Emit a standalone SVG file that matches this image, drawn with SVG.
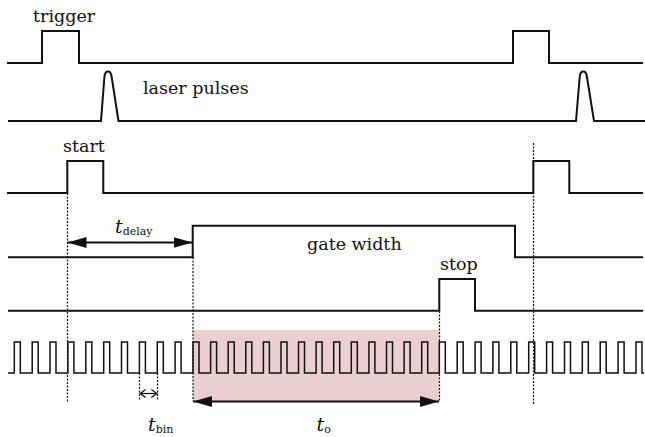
<svg xmlns="http://www.w3.org/2000/svg" width="645" height="437" viewBox="0 0 645 437">
<style>
.sig{fill:none;stroke:#111;stroke-width:2;stroke-linejoin:miter}
.clk{fill:none;stroke:#111;stroke-width:1.5}
.dot{fill:none;stroke:#111;stroke-width:1.2;stroke-dasharray:2 1.5}
.arr{fill:none;stroke:#111;stroke-width:2}
.thin{fill:none;stroke:#111;stroke-width:1.2}
.lbl{font-family:"DejaVu Serif","Liberation Serif",serif;font-size:17.5px;fill:#111}
.it{font-family:"DejaVu Serif","Liberation Serif",serif;font-style:italic;font-size:19px;fill:#111}
.sub{font-family:"DejaVu Serif","Liberation Serif",serif;font-size:11px;fill:#111}
</style>
<defs>
<marker id="head" markerUnits="userSpaceOnUse" markerWidth="20" markerHeight="12" refX="19" refY="6" orient="auto-start-reverse">
<path d="M0,0.5 L19,6 L0,11.5 z" fill="#111"/>
</marker>
<marker id="chev" markerUnits="userSpaceOnUse" markerWidth="8" markerHeight="10" refX="6" refY="4.5" orient="auto-start-reverse">
<path d="M0.5,0.5 L6,4.5 L0.5,8.5" fill="none" stroke="#111" stroke-width="1.3"/>
</marker>
</defs>
<rect id="window" x="193" y="330" width="246.3" height="71.5" fill="#ebcfd0"/>
<g id="trigger">
<path class="sig" d="M7,63 H42 V31 H79 V63 H513 V31 H549 V63 H643"/>
<text class="lbl" x="33" y="22">trigger</text>
</g>
<g id="laser">
<path class="sig" d="M8,121 H101 L104.5,76 C105.5,70 110.5,70 111.5,76 L118.5,121 H576 L579.8,76 C580.8,70 585.8,70 586.8,76 L594,121 H645"/>
<text class="lbl" x="143" y="94">laser pulses</text>
</g>
<g id="start">
<path class="sig" d="M7,193 H67.3 V161 H103.3 V193 H533.3 V161 H569.3 V193 H643"/>
<text class="lbl" x="63" y="152">start</text>
</g>
<g id="gate">
<path class="sig" d="M8,257.3 H192.7 V225.7 H515 V257.3 H643"/>
<text class="lbl" x="307" y="250">gate width</text>
</g>
<g id="stop">
<path class="sig" d="M8,310.7 H439.3 V279 H475 V310.7 H643"/>
<text class="lbl" x="440" y="269.5">stop</text>
</g>
<g id="clock">
<path class="clk" d="M8,373 H14.3 V342 H20.3 V373 H32.2 V342 H38.2 V373 H50 V342 H56 V373 H67.9 V342 H73.9 V373 H85.8 V342 H91.8 V373 H103.7 V342 H109.7 V373 H121.5 V342 H127.5 V373 H139.4 V342 H145.4 V373 H157.3 V342 H163.3 V373 H175.1 V342 H181.1 V373 H193 V342 H199 V373 H210.6 V342 H216.6 V373 H228.2 V342 H234.2 V373 H245.8 V342 H251.8 V373 H263.4 V342 H269.4 V373 H281 V342 H287 V373 H298.5 V342 H304.5 V373 H316.1 V342 H322.1 V373 H333.7 V342 H339.7 V373 H351.3 V342 H357.3 V373 H368.9 V342 H374.9 V373 H386.5 V342 H392.5 V373 H404.1 V342 H410.1 V373 H421.7 V342 H427.7 V373 H439.3 V342 H445.3 V373 H457.2 V342 H463.2 V373 H475.1 V342 H481.1 V373 H492.9 V342 H498.9 V373 H510.8 V342 H516.8 V373 H528.7 V342 H534.7 V373 H546.6 V342 H552.6 V373 H564.5 V342 H570.5 V373 H582.3 V342 H588.3 V373 H600.2 V342 H606.2 V373 H618.1 V342 H624.1 V373 H636 V342 H642 V373 H644"/>
</g>
<g id="connectors">
<line class="dot" x1="67.5" y1="193" x2="67.5" y2="403"/>
<line class="dot" x1="193" y1="257" x2="193" y2="401"/>
<line class="dot" x1="439.5" y1="311" x2="439.5" y2="401"/>
<line class="dot" x1="533.5" y1="143" x2="533.5" y2="405"/>
<line class="dot" x1="139.5" y1="373" x2="139.5" y2="401"/>
<line class="dot" x1="157.5" y1="373" x2="157.5" y2="401"/>
<line class="arr" x1="67.5" y1="242.5" x2="192.5" y2="242.5" marker-start="url(#head)" marker-end="url(#head)"/>
<line class="arr" x1="193" y1="401.5" x2="439" y2="401.5" marker-start="url(#head)" marker-end="url(#head)"/>
<line class="thin" x1="140.2" y1="393.5" x2="156.8" y2="393.5" marker-start="url(#chev)" marker-end="url(#chev)"/>
</g>
<g id="labels">
<text x="115" y="232.5"><tspan class="it">t</tspan><tspan class="sub" dy="2.5">delay</tspan></text>
<text x="148" y="431"><tspan class="it">t</tspan><tspan class="sub" dy="2">bin</tspan></text>
<text x="316.5" y="430.5"><tspan class="it">t</tspan><tspan class="sub" dy="2.5">o</tspan></text>
</g>
</svg>
